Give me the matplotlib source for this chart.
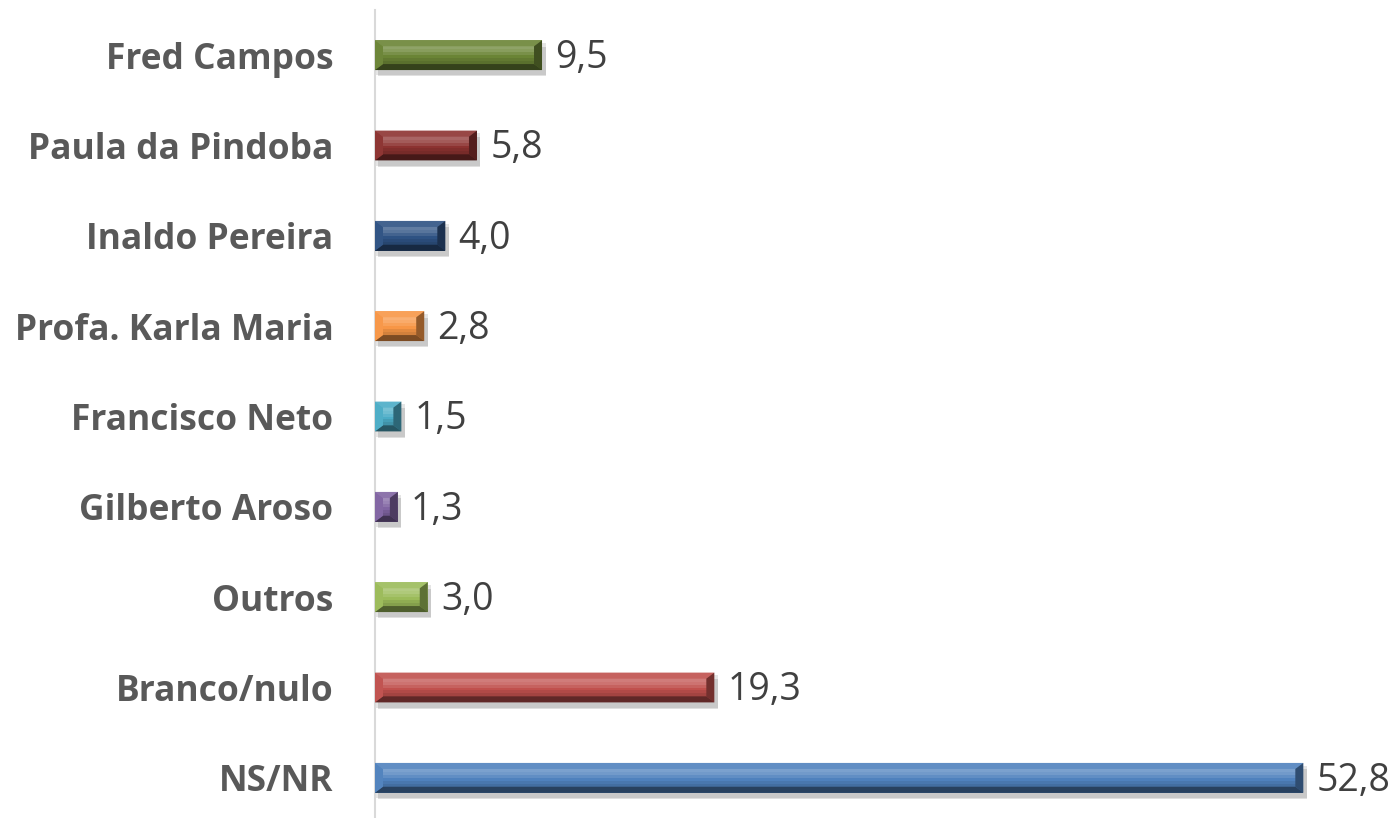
import matplotlib
matplotlib.use("Agg")
import matplotlib.pyplot as plt
from matplotlib.patches import Polygon, Rectangle
import numpy as np

nomes = ["Fred Campos", "Paula da Pindoba", "Inaldo Pereira", "Profa. Karla Maria",
         "Francisco Neto", "Gilberto Aroso", "Outros", "Branco/nulo", "NS/NR"]
valores = [9.5, 5.8, 4.0, 2.8, 1.5, 1.3, 3.0, 19.3, 52.8]
rotulos = ["9,5", "5,8", "4,0", "2,8", "1,5", "1,3", "3,0", "19,3", "52,8"]
cores = ["#6A8435", "#8C3230", "#2E5283", "#F79646", "#4BACC6", "#8064A2",
         "#9BBB59", "#C0504D", "#4F81BD"]

plt.rcParams['font.family'] = ['Open Sans', 'DejaVu Sans']

fig = plt.figure(figsize=(13.99, 8.18), dpi=100)
ax = fig.add_axes([375/1399, -5/818, 967/1399, 813/818])

y = np.arange(len(nomes))
h = 0.33
bars = ax.barh(y, valores, height=h, color=cores, zorder=3)
ax.set_xlim(0, 55)
ax.set_ylim(len(nomes) - 0.5, -0.5)


def tom(c, f):
    rgb = np.array(matplotlib.colors.to_rgb(c))
    if f > 0:
        rgb = rgb + (1 - rgb) * f
    else:
        rgb = rgb * (1 + f)
    return tuple(np.clip(rgb, 0, 1))


# bevel em unidades de dados (px -> dados)
bx = 8 / 17.58
by = 6 / 90.4
perfil = [0.18, 0.22, 0.25, 0.2, 0.1, 0.0, -0.08, -0.15, -0.22, -0.3]
for b, c in zip(bars, cores):
    x0, y0 = b.get_x(), b.get_y()
    x1, y1 = x0 + b.get_width(), y0 + b.get_height()
    e = min(bx, (x1 - x0) / 2.2)
    # sombra
    ax.add_patch(Rectangle((x0 + 0.15, y0 + 0.07), x1 - x0 + 0.05, y1 - y0,
                           color="#000000", alpha=0.12, zorder=2, lw=0))
    ax.add_patch(Rectangle((x0 + 0.05, y0 + 0.03), x1 - x0 + 0.15, y1 - y0 + 0.03,
                           color="#000000", alpha=0.10, zorder=2, lw=0))
    # gradiente vertical no corpo
    n = len(perfil)
    dh = (y1 - y0) / n
    for k, f in enumerate(perfil):
        ax.add_patch(Rectangle((x0, y0 + k * dh), x1 - x0, dh * 1.02,
                               color=tom(c, f), zorder=3.5, lw=0))
    # y invertido: y0 = topo visual
    top = [(x0, y0), (x1, y0), (x1 - e, y0 + by), (x0 + e, y0 + by)]
    bot = [(x0, y1), (x1, y1), (x1 - e, y1 - by), (x0 + e, y1 - by)]
    lft = [(x0, y0), (x0 + e, y0 + by), (x0 + e, y1 - by), (x0, y1)]
    rgt = [(x1, y0), (x1 - e, y0 + by), (x1 - e, y1 - by), (x1, y1)]
    ax.add_patch(Polygon(top, color=tom(c, 0.1), zorder=4, lw=0))
    ax.add_patch(Polygon(bot, color=tom(c, -0.5), zorder=4, lw=0))
    ax.add_patch(Polygon(lft, color=tom(c, 0.02), zorder=4, lw=0))
    ax.add_patch(Polygon(rgt, color=tom(c, -0.4), zorder=4, lw=0))

for v, r in zip(y, rotulos):
    ax.text(valores[v] + 0.75, v + 0.03, r, va="center", ha="left", fontsize=27,
            color="#404040", zorder=5)

ax.set_yticks(y)
ax.set_yticklabels(nomes, fontsize=25.5, fontweight="bold", color="#595959")
ax.tick_params(axis="y", length=0, pad=30)
ax.set_xticks([])
for s in ["top", "right", "bottom"]:
    ax.spines[s].set_visible(False)
ax.spines["left"].set_color("#D9D9D9")
ax.spines["left"].set_linewidth(1.5)

fig.savefig("out.png", dpi=100)
